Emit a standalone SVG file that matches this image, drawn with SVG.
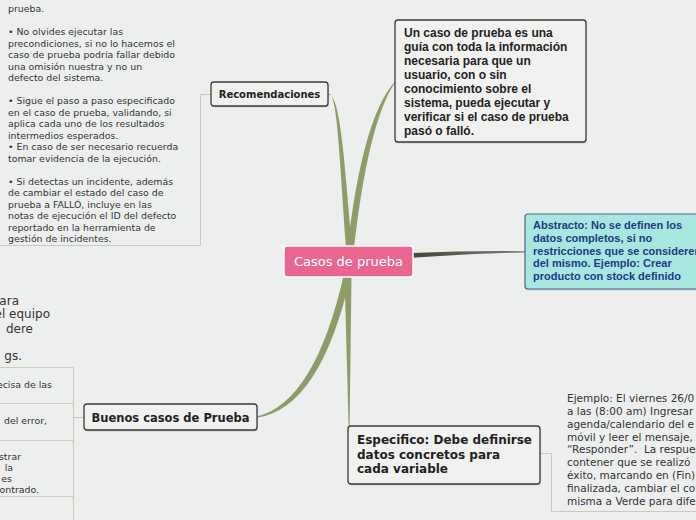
<svg xmlns="http://www.w3.org/2000/svg" width="696" height="520" viewBox="0 0 696 520">
<defs>
<style>
.note{font-family:"DejaVu Sans",Verdana,sans-serif;font-size:9.4px;fill:#333}
.noteR{font-family:"DejaVu Sans",Verdana,sans-serif;font-size:10.5px;fill:#333}
.big{font-family:"DejaVu Sans",Verdana,sans-serif;font-size:12px;fill:#333}
.thin{fill:none;stroke:#c8cdb6;stroke-width:1}
.branch{fill:#8e9c68}
.box{fill:#f1f1ef;stroke:#3a3a3a;stroke-width:1.3}
.shadow{fill:#000;opacity:0.14}
.lbl{font-family:"DejaVu Sans",Verdana,sans-serif;font-weight:bold;fill:#222}
.arial{font-family:"Liberation Sans",Arial,sans-serif;font-weight:bold;font-size:12px;fill:#222}
</style>
<linearGradient id="gAbs" x1="0" y1="0" x2="1" y2="0">
<stop offset="0" stop-color="#45453a"/>
<stop offset="1" stop-color="#7c7c74"/>
</linearGradient>
</defs>
<rect width="696" height="520" fill="#edefee"/>

<g id="connectors">
<path class="thin" d="M211,94.5 H200.5 V245.5 H0"/>
<path class="thin" d="M84,417.5 H73.5 M73.5,367.5 V520 M0,367.5 H73.5 M0,403.5 H73.5 M0,440.5 H73.5 M0,496.5 H73.5"/>
<path class="thin" d="M540,453.5 H551.5 V511.5 H696"/>
<path class="branch" d="M329,93.5 C338,95 340,170 346.5,252 L352.5,252 C345,170 341,96 329,94.8 Z"/>
<path class="branch" d="M395,81.5 Q362,118 347,252 L353.5,252 Q368,122 395,82.8 Z"/>
<path class="branch" d="M257,416.5 Q315,402 344,274 L351,274 Q321,408 257,417.8 Z"/>
<path class="branch" d="M344.5,274 L351.5,274 L349.6,427 L348.6,427 Z"/>
<path fill="url(#gAbs)" d="M412,253 Q470,250.5 525,251.2 L525,252.4 Q470,253.5 412,257.8 Z"/>
</g>

<g id="note-recomendaciones">
<text class="note"><tspan x="8" y="12">prueba.</tspan><tspan x="8" y="35">• No olvides ejecutar las</tspan><tspan x="8" y="46.5">precondiciones, si no lo hacemos el</tspan><tspan x="8" y="58">caso de prueba podría fallar debido</tspan><tspan x="8" y="69.5">una omisión nuestra y no un</tspan><tspan x="8" y="81">defecto del sistema.</tspan><tspan x="8" y="104">• Sigue el paso a paso especificado</tspan><tspan x="8" y="115.5">en el caso de prueba, validando, si</tspan><tspan x="8" y="127">aplica cada uno de los resultados</tspan><tspan x="8" y="138.5">intermedios esperados.</tspan><tspan x="8" y="150">• En caso de ser necesario recuerda</tspan><tspan x="8" y="161.5">tomar evidencia de la ejecución.</tspan><tspan x="8" y="184.5">• Si detectas un incidente, además</tspan><tspan x="8" y="196">de cambiar el estado del caso de</tspan><tspan x="8" y="207.5">prueba a FALLÓ, incluye en las</tspan><tspan x="8" y="219">notas de ejecución el ID del defecto</tspan><tspan x="8" y="230.5">reportado en la herramienta de</tspan><tspan x="8" y="242">gestión de incidentes.</tspan></text>
</g>

<g id="note-left-big">
<text class="big" text-anchor="end"><tspan x="19" y="304.5">ara</tspan><tspan x="50" y="318">el equipo</tspan><tspan x="33" y="332.5">dere</tspan><tspan x="22" y="360">gs.</tspan></text>
</g>

<g id="notes-buenos">
<text class="note" text-anchor="end"><tspan x="52" y="387.5">ecisa de las</tspan><tspan x="47" y="423.5">del error,</tspan><tspan x="21" y="459.5">strar</tspan><tspan x="13" y="470.5">la</tspan><tspan x="12" y="481.5">es</tspan><tspan x="39" y="492.5">contrado.</tspan></text>
</g>

<g id="note-especifico">
<text class="noteR"><tspan x="567" y="402.2">Ejemplo: El viernes 26/0</tspan><tspan x="567" y="415">a las (8:00 am) Ingresar</tspan><tspan x="567" y="427.8">agenda/calendario del e</tspan><tspan x="567" y="440.6">móvil y leer el mensaje,</tspan><tspan x="567" y="453.4">“Responder”.&#160; La respues</tspan><tspan x="567" y="466.2">contener que se realizó</tspan><tspan x="567" y="479">éxito, marcando en (Fin)</tspan><tspan x="567" y="491.8">finalizada, cambiar el co</tspan><tspan x="567" y="504.6">misma a Verde para dife</tspan></text>
</g>

<g id="node-recomendaciones">
<rect class="shadow" x="212" y="83.5" width="117" height="24" rx="3"/>
<rect class="box" x="211" y="82" width="117" height="24" rx="3"/>
<text class="lbl" x="269.5" y="97.8" font-size="10px" text-anchor="middle">Recomendaciones</text>
</g>

<g id="node-definicion">
<rect class="shadow" x="396" y="21.5" width="191" height="122" rx="3"/>
<rect class="box" x="395" y="20" width="191" height="122" rx="3"/>
<text class="arial"><tspan x="404" y="36.5">Un caso de prueba es una</tspan><tspan x="404" y="50.5">guía con toda la información</tspan><tspan x="404" y="64.5">necesaria para que un</tspan><tspan x="404" y="78.5">usuario, con o sin</tspan><tspan x="404" y="92.5">conocimiento sobre el</tspan><tspan x="404" y="106.5">sistema, pueda ejecutar y</tspan><tspan x="404" y="120.5">verificar si el caso de prueba</tspan><tspan x="404" y="134.5">pasó o falló.</tspan></text>
</g>

<g id="node-abstracto">
<rect class="shadow" x="526" y="215.5" width="200" height="75" rx="3"/>
<rect x="525" y="214" width="200" height="75" rx="3" fill="#a8e6e0" stroke="#4a6488" stroke-width="1.2"/>
<text font-family="'Liberation Sans',Arial,sans-serif" font-weight="bold" font-size="11px" fill="#1d3a84"><tspan x="533" y="229">Abstracto: No se definen los</tspan><tspan x="533" y="241.8">datos completos, si no</tspan><tspan x="533" y="254.6">restricciones que se consideren</tspan><tspan x="533" y="267.4">del mismo. Ejemplo: Crear</tspan><tspan x="533" y="280.2">producto con stock definido</tspan></text>
</g>

<g id="node-buenos">
<rect class="shadow" x="85" y="405.5" width="173" height="26" rx="3"/>
<rect class="box" x="84" y="404" width="173" height="26" rx="3"/>
<text class="lbl" x="170.5" y="421.6" font-size="11.5px" text-anchor="middle">Buenos casos de Prueba</text>
</g>

<g id="node-especifico">
<rect class="shadow" x="349" y="427.5" width="192" height="58" rx="3"/>
<rect class="box" x="348" y="426" width="192" height="58" rx="3"/>
<text class="lbl" font-size="12px"><tspan x="357" y="444.3">Especifico: Debe definirse</tspan><tspan x="357" y="458.6">datos concretos para</tspan><tspan x="357" y="472.9">cada variable</tspan></text>
</g>

<g id="node-center">
<rect x="284" y="246" width="129" height="31" rx="3" fill="#e8668f" stroke="#ffffff" stroke-width="1.5"/>
<text x="348.5" y="266" font-family="'DejaVu Sans',Verdana,sans-serif" font-size="13px" fill="#ffffff" text-anchor="middle">Casos de prueba</text>
</g>
</svg>
